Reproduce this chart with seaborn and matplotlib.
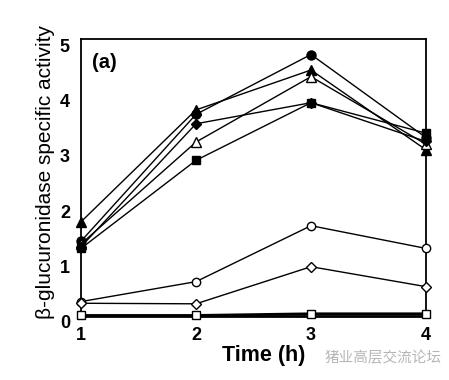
import matplotlib
matplotlib.use("Agg")
import matplotlib.pyplot as plt
import matplotlib.transforms as mtransforms
import seaborn as sns
import pandas as pd

# ---- data ----
time_h = [1, 2, 3, 4]
filled_circle = [1.35, 3.64, 4.72, 3.22]
filled_triangle = [1.70, 3.72, 4.44, 3.00]
open_triangle = [1.30, 3.14, 4.32, 3.10]
filled_diamond = [1.25, 3.47, 3.85, 3.15]
filled_square = [1.22, 2.81, 3.85, 3.30]
open_circle = [0.26, 0.62, 1.63, 1.22]
open_diamond = [0.23, 0.22, 0.89, 0.53]
open_square = [0.01, 0.01, 0.04, 0.04]

x_ticks = [1, 2, 3, 4]
y_ticks = [0, 1, 2, 3, 4, 5]
x_label = "Time (h)"
y_label = "β-glucuronidase specific activity"
panel_label = "(a)"
watermark = "猪业高层交流论坛"

sns.set_theme(style="white")
plt.rcParams["font.family"] = ["Liberation Sans", "DejaVu Sans"]

fig = plt.figure(figsize=(4.49, 3.80), dpi=100)
ax = fig.add_axes([81 / 449, 1 - 316 / 380, 345 / 449, 277 / 380])

series = [
    (filled_circle, "o", "black", 6.5, 1.0),
    (filled_triangle, "^", "black", 7, 1.0),
    (open_triangle, "^", "white", 7, 1.0),
    (filled_diamond, "D", "black", 5.5, 1.0),
    (filled_square, "s", "black", 6, 1.0),
    (open_circle, "o", "white", 6, 1.0),
    (open_diamond, "D", "white", 5, 1.0),
    (open_square, "s", "white", 6, 2.0),
]

for vals, mk, face, ms, lw in series:
    df = pd.DataFrame({"t": time_h, "v": vals})
    sns.lineplot(data=df, x="t", y="v", ax=ax, color="black", marker=mk,
                 markerfacecolor=face, markeredgecolor="black",
                 markersize=ms, markeredgewidth=1.0, linewidth=lw,
                 clip_on=False, zorder=3)

ax.set_xlim(1, 4)
ax.set_ylim(0, 5)
ax.set_xticks(x_ticks)
ax.set_yticks(y_ticks)
ax.set_xticklabels([str(v) for v in x_ticks], fontsize=13, fontweight="bold")
ax.set_yticklabels([str(v) for v in y_ticks], fontsize=13, fontweight="bold")
ax.tick_params(axis="both", length=0, colors="black")
ax.tick_params(axis="x", pad=8)
ax.tick_params(axis="y", pad=8)

# shift y tick labels slightly downward as in the reference
offset = mtransforms.ScaledTranslation(0, -6 / 100, fig.dpi_scale_trans)
for lab in ax.get_yticklabels():
    lab.set_transform(lab.get_transform() + offset)

for sp in ax.spines.values():
    sp.set_color("black")
    sp.set_linewidth(1.3)
ax.spines["bottom"].set_linewidth(2.0)

ax.set_xlabel(x_label, fontsize=15.5, fontweight="bold", color="black")
ax.xaxis.label.set_va("center")
ax.xaxis.set_label_coords((264 - 81) / 345, (316 - 355) / 277)
ax.set_ylabel(y_label, fontsize=15, color="black")
ax.yaxis.label.set_va("center")
ax.yaxis.set_label_coords((46 - 81) / 345, (316 - 172) / 277)

ax.text((92 - 81) / 345, (316 - 63) / 277, panel_label, transform=ax.transAxes,
        fontsize=14.5, fontweight="bold", va="center", ha="left", color="black")

fig.text(325 / 449, 1 - 358 / 380, watermark, color="#b5b5b5", fontsize=10.5,
         family=["Noto Sans CJK SC", "DejaVu Sans"], va="center", ha="left")

fig.savefig("out.png", dpi=100)
